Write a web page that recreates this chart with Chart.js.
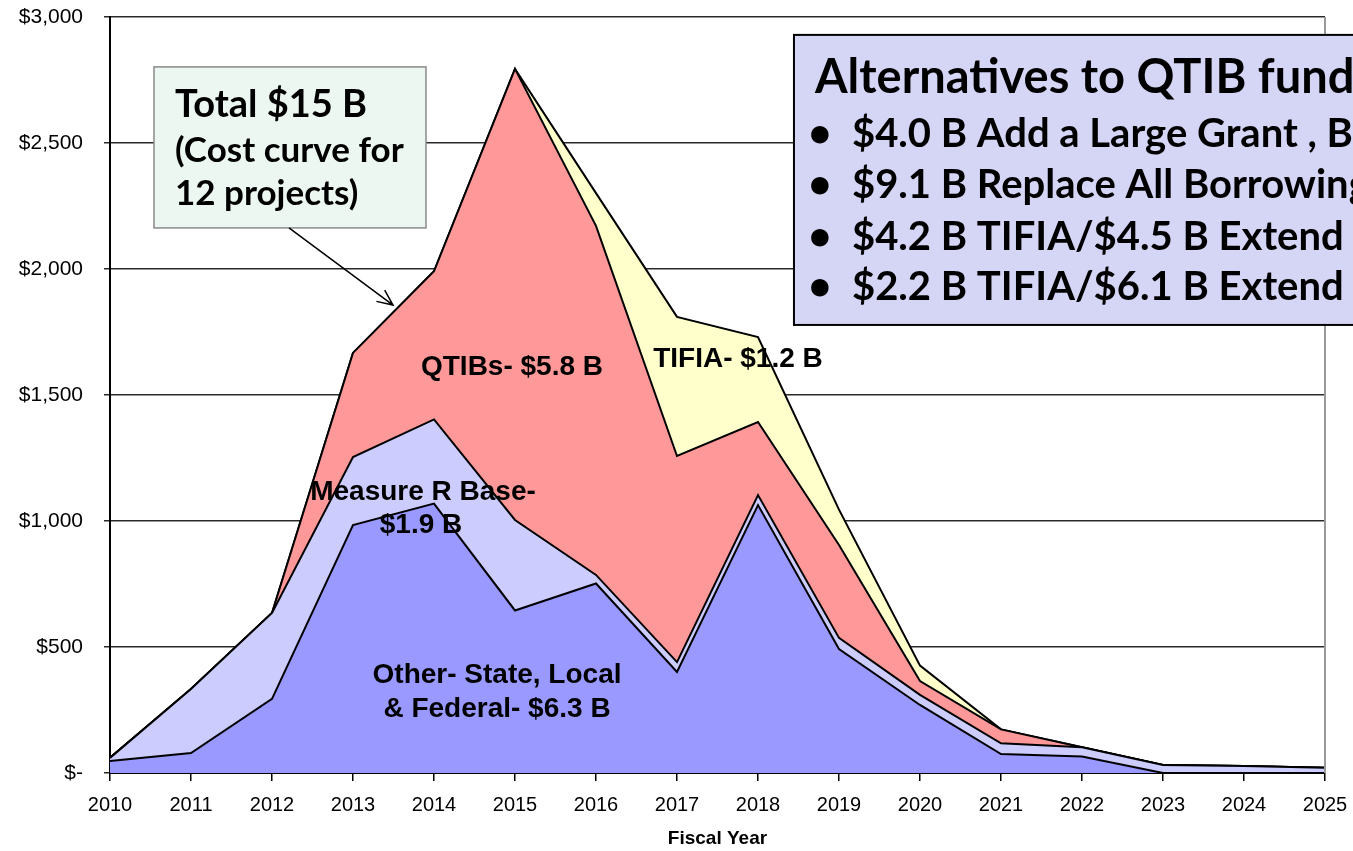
<!DOCTYPE html>
<html>
<head>
<meta charset="utf-8">
<script src="https://cdn.jsdelivr.net/npm/chart.js@4.4.1/dist/chart.umd.min.js"></script>
<style>
  html, body { margin: 0; padding: 0; background: #ffffff; }
  #wrap { width: 1353px; height: 851px; position: relative; overflow: hidden; }
</style>
</head>
<body>
<div id="wrap"><canvas id="c" width="1353" height="851"></canvas></div>
<script>
// ---- Data (values in $ millions) ----
const years = ['2010','2011','2012','2013','2014','2015','2016','2017','2018','2019','2020','2021','2022','2023','2024','2025'];
const otherStateLocalFederal = [48, 79, 294, 984, 1069, 645, 752, 401, 1063, 492, 270, 75, 65, 0, 0, 0];
const measureRBase = [12, 254, 341, 270, 334, 359, 34, 39, 40, 44, 40, 43, 37, 32, 28, 21];
const qtibs = [0, 0, 0, 413, 588, 1790, 1385, 818, 290, 369, 55, 55, 0, 0, 0, 0];
const tifia = [0, 0, 0, 0, 0, 0, 130, 552, 337, 140, 61, 0, 0, 0, 0, 0];
const yTicks = [0, 500, 1000, 1500, 2000, 2500, 3000];

const seriesNames = ['Other- State, Local & Federal', 'Measure R Base', 'QTIBs', 'TIFIA'];
const seriesColors = ['#9999FF', '#CCCCFF', '#FF9999', '#FFFFCC'];

const areaLabels = [
  { lines: ['QTIBs- $5.8 B'], x: 4.963, y: 1579 },
  { lines: ['TIFIA- $1.2 B'], x: 7.753, y: 1611 },
  { lines: ['Measure R Base-'], x: 3.864, y: 1083 },
  { lines: ['$1.9 B'], x: 3.84, y: 952 },
  { lines: ['Other- State, Local'], x: 4.778, y: 357 },
  { lines: ['& Federal- $6.3 B'], x: 4.778, y: 222 }
];
const totalBoxLines = ['Total $15 B', '(Cost curve for', '12 projects)'];
const altTitle = 'Alternatives to QTIB funding';
const altBullets = [
  '$4.0 B Add a Large Grant , Borrow',
  '$9.1 B Replace All Borrowing',
  '$4.2 B TIFIA/$4.5 B Extend Measure R',
  '$2.2 B TIFIA/$6.1 B Extend Measure R'
];

const ARIAL = "'Liberation Sans', Arial, sans-serif";
const HUMAN = "Lato, 'Open Sans', sans-serif";

const datasets = [otherStateLocalFederal, measureRBase, qtibs, tifia].map((d, i) => ({
  label: seriesNames[i],
  data: d,
  backgroundColor: seriesColors[i],
  borderColor: '#000000',
  borderWidth: 2,
  fill: i === 0 ? 'origin' : '-1',
  tension: 0,
  pointRadius: 0,
  pointHoverRadius: 0
}));

const overlay = {
  id: 'overlay',
  afterDraw(chart) {
    const ctx = chart.ctx;
    const xs = chart.scales.x, ys = chart.scales.y;
    const px = v => xs.getPixelForValue(v);
    const py = v => ys.getPixelForValue(v);
    const area = chart.chartArea;
    ctx.save();
    // right plot border
    ctx.strokeStyle = '#999999';
    ctx.lineWidth = 2;
    ctx.beginPath();
    ctx.moveTo(area.right, area.top);
    ctx.lineTo(area.right, area.bottom);
    ctx.stroke();

    // area labels
    ctx.fillStyle = '#000';
    ctx.font = "bold 28px " + ARIAL;
    ctx.textAlign = 'center';
    ctx.textBaseline = 'alphabetic';
    areaLabels.forEach(l => { ctx.fillText(l.lines[0], px(l.x), py(l.y)); });

    // total box
    const bx0 = px(0.543), bx1 = px(3.901), by0 = py(2802), by1 = py(2163);
    ctx.fillStyle = '#EDF7F1';
    ctx.fillRect(bx0, by0, bx1 - bx0, by1 - by0);
    ctx.strokeStyle = '#8A8A8A';
    ctx.lineWidth = 1.5;
    ctx.strokeRect(bx0, by0, bx1 - bx0, by1 - by0);
    ctx.fillStyle = '#000';
    ctx.textAlign = 'left';
    const tb = [2603, 2425, 2254];
    totalBoxLines.forEach((t, i) => {
      ctx.font = (i === 0 ? "bold 38px " : "bold 35px ") + HUMAN;
      ctx.fillText(t, px(0.802), py(tb[i]));
    });
    // arrow
    const ax0 = px(2.21), ay0 = py(2163), ax1 = px(3.494), ay1 = py(1857);
    ctx.strokeStyle = '#000';
    ctx.lineWidth = 1.5;
    ctx.beginPath();
    ctx.moveTo(ax0, ay0);
    ctx.lineTo(ax1, ay1);
    const ang = Math.atan2(ay1 - ay0, ax1 - ax0);
    const hl = 17, ha = 0.42;
    ctx.moveTo(ax1 - hl * Math.cos(ang - ha), ay1 - hl * Math.sin(ang - ha));
    ctx.lineTo(ax1, ay1);
    ctx.lineTo(ax1 - hl * Math.cos(ang + ha), ay1 - hl * Math.sin(ang + ha));
    ctx.stroke();

    // alternatives box
    const cx0 = px(8.444), cy0 = py(2929), cy1 = py(1778), cx1 = chart.width + 20;
    ctx.fillStyle = '#D5D5F5';
    ctx.fillRect(cx0, cy0, cx1 - cx0, cy1 - cy0);
    ctx.strokeStyle = '#000';
    ctx.lineWidth = 2;
    ctx.strokeRect(cx0, cy0, cx1 - cx0, cy1 - cy0);
    ctx.fillStyle = '#000';
    ctx.font = "bold 47px " + HUMAN;
    ctx.fillText(altTitle, px(8.704), py(2698));
    const bb = [2484, 2282, 2075, 1877];
    altBullets.forEach((t, i) => {
      ctx.font = "bold 40px " + HUMAN;
      ctx.textAlign = 'center';
      ctx.fillText('\u2022', px(8.765), py(bb[i]));
      ctx.textAlign = 'left';
      ctx.fillText(t, px(9.16), py(bb[i]));
    });
    ctx.restore();
  }
};

new Chart(document.getElementById('c'), {
  type: 'line',
  data: { labels: years, datasets },
  options: {
    responsive: false,
    devicePixelRatio: 1,
    animation: false,
    events: [],
    layout: { padding: { top: 17, right: 28, left: 0, bottom: 0 } },
    plugins: { legend: { display: false }, tooltip: { enabled: false }, title: { display: false } },
    scales: {
      x: {
        type: 'category',
        offset: false,
        grid: { display: true, drawOnChartArea: false, drawTicks: true, tickLength: 8, color: '#000', lineWidth: 1.5 },
        border: { display: true, color: '#000', width: 2 },
        ticks: { color: '#000', font: { family: ARIAL, size: 20 }, padding: 12, maxRotation: 0, autoSkip: false },
        title: { display: true, text: 'Fiscal Year', color: '#000', font: { family: ARIAL, size: 19, weight: 'bold' }, padding: { top: 0, bottom: 1 } },
        afterFit: s => { s.height = 78; s.paddingLeft = 0; s.paddingRight = 0; }
      },
      y: {
        stacked: true,
        min: 0,
        max: 3000,
        afterBuildTicks: s => { s.ticks = yTicks.map(v => ({ value: v })); },
        grid: { color: '#2a2a2a', lineWidth: 1.5, tickLength: 6, drawTicks: true },
        border: { display: true, color: '#000', width: 2 },
        ticks: {
          color: '#000', font: { family: ARIAL, size: 21 }, padding: 21,
          callback: v => v === 0 ? '$-' : '$' + v.toLocaleString('en-US')
        },
        afterFit: s => { s.width = 110; s.paddingTop = 0; s.paddingBottom = 0; }
      }
    }
  },
  plugins: [overlay]
});
</script>
</body>
</html>
